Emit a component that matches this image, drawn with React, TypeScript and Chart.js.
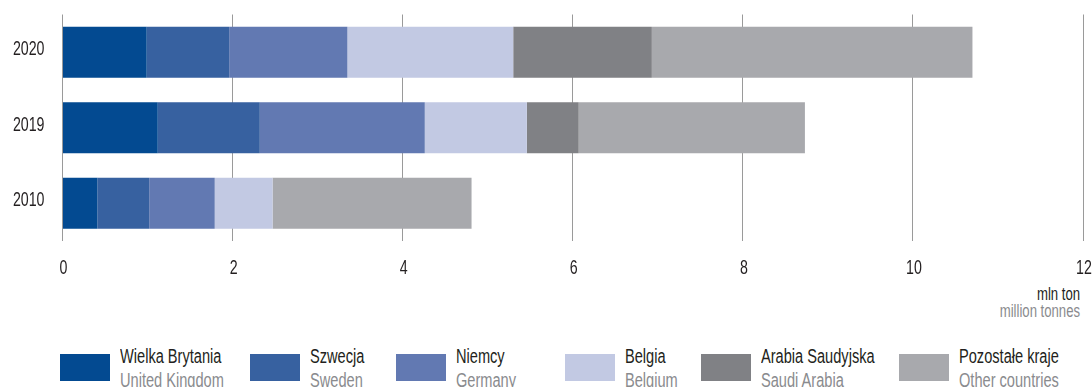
import React, { useEffect, useRef } from "react";
import { Chart, registerables } from "chart.js";

Chart.register(...registerables);

const categories = ["2020", "2019", "2010"];
const ukValues = [0.99, 1.12, 0.41];
const swedenValues = [0.97, 1.2, 0.61];
const germanyValues = [1.39, 1.94, 0.77];
const belgiumValues = [1.95, 1.2, 0.68];
const saudiValues = [1.63, 0.61, 0];
const otherValues = [3.77, 2.66, 2.34];
const xTicks = [0, 2, 4, 6, 8, 10, 12];

const seriesPl = ["Wielka Brytania", "Szwecja", "Niemcy", "Belgia", "Arabia Saudyjska", "Pozostałe kraje"];
const seriesEn = ["United Kingdom", "Sweden", "Germany", "Belgium", "Saudi Arabia", "Other countries"];
const colors = ["#034a91", "#3761a0", "#6279b2", "#c2c9e3", "#808185", "#a8a9ad"];
const legendX = [60, 250, 396, 565, 701, 899];

const FONT = "'Liberation Sans', Arial, sans-serif";
const DARK = "#231f20";
const GRAY = "#8a8b8e";
const SQUEEZE = 0.71;

const scaledTicks = {
  id: "scaledTicks",
  afterDraw(chart: any) {
    const ctx = chart.ctx;
    const xs = chart.scales.x;
    const ys = chart.scales.y;
    ctx.save();
    ctx.fillStyle = DARK;
    ctx.font = `20px ${FONT}`;
    ctx.textBaseline = "alphabetic";
    ctx.textAlign = "right";
    ys.getLabels().forEach((lab: string, i: number) => {
      const y = ys.getPixelForTick(i);
      ctx.save();
      ctx.translate(ys.right - 18, y + 3);
      ctx.scale(SQUEEZE, 1);
      ctx.fillText(lab, 0, 0);
      ctx.restore();
    });
    ctx.textAlign = "center";
    xs.ticks.forEach((t: any) => {
      const x = xs.getPixelForValue(t.value);
      ctx.save();
      ctx.translate(x + 1, chart.chartArea.bottom + 33);
      ctx.scale(SQUEEZE, 1);
      ctx.fillText(String(t.value), 0, 0);
      ctx.restore();
    });
    ctx.restore();
  },
};

const textStyle = (size: number, color: string, origin: string): React.CSSProperties => ({
  position: "absolute",
  fontSize: size,
  lineHeight: "20px",
  color,
  whiteSpace: "nowrap",
  transform: `scaleX(${SQUEEZE + 0.02})`,
  transformOrigin: origin,
});

export default function App() {
  const ref = useRef<HTMLCanvasElement | null>(null);

  useEffect(() => {
    if (!ref.current) return;
    const values = [ukValues, swedenValues, germanyValues, belgiumValues, saudiValues, otherValues];
    const chart = new Chart(ref.current, {
      type: "bar",
      data: {
        labels: categories,
        datasets: values.map((v, i) => ({
          label: seriesPl[i],
          data: v,
          backgroundColor: colors[i],
          borderWidth: 0,
          barPercentage: 0.675,
          categoryPercentage: 1,
        })),
      },
      options: {
        indexAxis: "y",
        animation: false,
        responsive: false,
        maintainAspectRatio: false,
        layout: { padding: { top: 14.5, right: 9, left: 0, bottom: 0 } },
        plugins: { legend: { display: false }, tooltip: { enabled: false } },
        scales: {
          x: {
            stacked: true,
            min: 0,
            max: 12,
            afterBuildTicks: (s: any) => {
              s.ticks = xTicks.map((v) => ({ value: v }));
            },
            afterFit: (s: any) => {
              s.height = 39;
              s.paddingLeft = 0;
              s.paddingRight = 0;
            },
            grid: { color: "#9a9a9a", lineWidth: 1, drawTicks: false },
            border: { display: false },
            ticks: { display: false },
          },
          y: {
            stacked: true,
            afterFit: (s: any) => {
              s.width = 62.5;
              s.paddingTop = 0;
              s.paddingBottom = 0;
            },
            grid: { display: false, drawTicks: false },
            border: { display: false },
            ticks: { display: false },
          },
        },
      },
      plugins: [scaledTicks],
    });
    return () => chart.destroy();
  }, []);

  return (
    <div style={{ position: "absolute", left: 0, top: 0, width: 1092, height: 387, background: "#fff", fontFamily: FONT, overflow: "hidden" }}>
      <canvas ref={ref} width={1092} height={280} style={{ position: "absolute", left: 0, top: 0, width: 1092, height: 280 }} />
      <div style={{ ...textStyle(18, DARK, "right"), right: 12, top: 284 }}>mln ton</div>
      <div style={{ ...textStyle(18, GRAY, "right"), right: 12, top: 300.5 }}>million tonnes</div>
      {seriesPl.map((name, i) => (
        <React.Fragment key={name}>
          <div style={{ position: "absolute", left: legendX[i], top: 354, width: 50, height: 27, background: colors[i] }} />
          <div style={{ ...textStyle(20, DARK, "left"), left: legendX[i] + 60, top: 345.5 }}>{name}</div>
          <div style={{ ...textStyle(20, GRAY, "left"), left: legendX[i] + 60, top: 369.5 }}>{seriesEn[i]}</div>
        </React.Fragment>
      ))}
    </div>
  );
}
